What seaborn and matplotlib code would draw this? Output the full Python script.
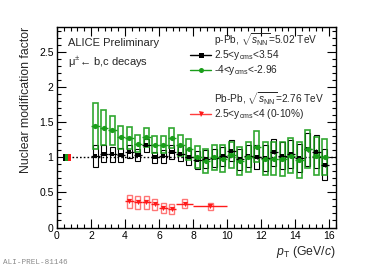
import numpy as np
import pandas as pd
import matplotlib
matplotlib.use("Agg")
import matplotlib.pyplot as plt
from matplotlib.patches import Rectangle
from matplotlib.lines import Line2D
from matplotlib.ticker import MultipleLocator
import seaborn as sns

# ---------------- data ----------------
pt_ppb = [2.25, 2.75, 3.25, 3.75, 4.25, 4.75, 5.25, 5.75, 6.25, 6.75,
          7.25, 7.75, 8.25, 8.75, 9.25, 9.75, 10.25, 10.75, 11.25, 11.75,
          12.25, 12.75, 13.25, 13.75, 14.25, 14.75, 15.25, 15.75]
pt_halfwidth_ppb = [0.25] * 28

raa_fwd = [1.02, 1.05, 1.04, 1.03, 1.08, 1.03, 1.17, 1.00, 1.01, 1.08,
           1.05, 1.00, 0.96, 0.97, 0.99, 1.01, 1.09, 0.97, 1.02, 1.00,
           0.99, 1.07, 1.02, 1.05, 0.99, 1.11, 1.08, 0.89]
sys_fwd = [0.16, 0.12, 0.11, 0.10, 0.09, 0.09, 0.09, 0.08, 0.09, 0.10,
           0.11, 0.11, 0.13, 0.13, 0.13, 0.14, 0.15, 0.15, 0.16, 0.17,
           0.18, 0.19, 0.19, 0.20, 0.20, 0.23, 0.23, 0.22]
stat_fwd = [0.01] * 12 + [0.02] * 8 + [0.03] * 8

raa_bwd = [1.44, 1.42, 1.38, 1.28, 1.27, 1.19, 1.28, 1.18, 1.18, 1.27,
           1.17, 1.11, 1.00, 0.95, 1.00, 0.98, 1.03, 0.94, 1.00, 1.15,
           0.98, 0.98, 0.97, 1.02, 0.96, 1.12, 1.02, 1.00]
sys_bwd = [0.33, 0.25, 0.21, 0.17, 0.16, 0.12, 0.14, 0.12, 0.12, 0.14,
           0.15, 0.15, 0.16, 0.17, 0.18, 0.19, 0.19, 0.20, 0.21, 0.22,
           0.23, 0.24, 0.24, 0.25, 0.25, 0.27, 0.27, 0.26]
stat_bwd = [0.01] * 12 + [0.02] * 8 + [0.03] * 8

pt_pbpb = [4.25, 4.75, 5.25, 5.75, 6.25, 6.75, 7.5, 9.0]
pt_halfwidth_pbpb = [0.25, 0.25, 0.25, 0.25, 0.25, 0.25, 0.5, 1.0]
raa_pbpb = [0.37, 0.36, 0.36, 0.33, 0.28, 0.26, 0.34, 0.30]
sys_pbpb = [0.09, 0.09, 0.09, 0.08, 0.07, 0.07, 0.06, 0.05]

norm_unc = [0.05, 0.05, 0.05]   # fwd, bwd, Pb-Pb global uncertainties

legend_header_ppb = r"p-Pb, $\sqrt{s_{\rm NN}}$=5.02 TeV"
legend_fwd = r"2.5<$\mathrm{y}_{\rm cms}$<3.54"
legend_bwd = r"-4<$\mathrm{y}_{\rm cms}$<-2.96"
legend_header_pbpb = r"Pb-Pb, $\sqrt{s_{\rm NN}}$=2.76 TeV"
legend_pbpb = r"2.5<$\mathrm{y}_{\rm cms}$<4 (0-10%)"

# ---------------- style ----------------
sns.set_theme(style="ticks")
plt.rcParams['font.family'] = ['Liberation Sans', 'DejaVu Sans']
plt.rcParams['mathtext.fontset'] = 'custom'
plt.rcParams['mathtext.rm'] = 'Liberation Sans'
plt.rcParams['mathtext.it'] = 'Liberation Sans:italic'
plt.rcParams['mathtext.bf'] = 'Liberation Sans:bold'

BLACK = '#000000'
GREEN = '#1a9e1a'
RED = '#ff1a1a'

W, H = 374, 268
fig = plt.figure(figsize=(W / 100, H / 100), dpi=100)
L, R, T, B = 57, 336, 26.7, 227.5
ax = fig.add_axes([L / W, 1 - B / H, (R - L) / W, (B - T) / H])
ax.set_facecolor('white')

df_fwd = pd.DataFrame({'pt': pt_ppb, 'raa': raa_fwd, 'sys': sys_fwd,
                       'stat': stat_fwd, 'xe': pt_halfwidth_ppb})
df_bwd = pd.DataFrame({'pt': pt_ppb, 'raa': raa_bwd, 'sys': sys_bwd,
                       'stat': stat_bwd, 'xe': pt_halfwidth_ppb})
df_pbpb = pd.DataFrame({'pt': pt_pbpb, 'raa': raa_pbpb, 'sys': sys_pbpb,
                        'xe': pt_halfwidth_pbpb})

# reference line at 1
ax.hlines(1.0, 0.9, 16.4, colors='black', linestyles=(0, (1.2, 1.5)), lw=1.0, zorder=1)

# systematic boxes
bw = 0.3
for _, r in df_fwd.iterrows():
    ax.add_patch(Rectangle((r.pt - bw / 2, r.raa - r.sys), bw, 2 * r.sys,
                           fill=False, edgecolor=BLACK, lw=0.8, zorder=2))
for _, r in df_bwd.iterrows():
    ax.add_patch(Rectangle((r.pt - bw / 2, r.raa - r.sys), bw, 2 * r.sys,
                           fill=False, edgecolor=GREEN, lw=1.2, alpha=0.9, zorder=3))
for _, r in df_pbpb.iterrows():
    ax.add_patch(Rectangle((r.pt - bw / 2, r.raa - r.sys), bw, 2 * r.sys,
                           fill=False, edgecolor=RED, lw=1.0, alpha=0.6, zorder=3))

# normalisation boxes
norm_x = [0.40, 0.565, 0.75]
norm_w = [0.15, 0.18, 0.18]
for xc, wd, u, c in zip(norm_x, norm_w, norm_unc, [BLACK, GREEN, RED]):
    ax.add_patch(Rectangle((xc - wd / 2, 1 - u), wd, 2 * u, facecolor=c,
                           edgecolor='none', zorder=3))

# error bars
ax.errorbar(df_fwd.pt, df_fwd.raa, xerr=df_fwd.xe, yerr=df_fwd.stat, fmt='none',
            ecolor=BLACK, elinewidth=0.9, zorder=4)
ax.errorbar(df_bwd.pt, df_bwd.raa, xerr=df_bwd.xe, yerr=df_bwd.stat, fmt='none',
            ecolor=GREEN, elinewidth=1.0, zorder=5)
ax.errorbar(df_pbpb.pt, df_pbpb.raa, xerr=df_pbpb.xe, fmt='none',
            ecolor=RED, elinewidth=1.0, zorder=5)

# markers via seaborn
sns.scatterplot(data=df_fwd, x='pt', y='raa', marker='s', color=BLACK, s=10,
                edgecolor=BLACK, linewidth=0, ax=ax, zorder=6)
sns.scatterplot(data=df_bwd, x='pt', y='raa', marker='o', color=GREEN, s=14,
                edgecolor=GREEN, linewidth=0, ax=ax, zorder=7)
sns.scatterplot(data=df_pbpb, x='pt', y='raa', marker='v', color=RED, s=14,
                edgecolor=RED, linewidth=0, ax=ax, zorder=7)

# axes
ax.set_xlim(0, 16.4)
ax.set_ylim(0, 2.855)
ax.xaxis.set_major_locator(MultipleLocator(2))
ax.xaxis.set_minor_locator(MultipleLocator(0.4))
ax.yaxis.set_major_locator(MultipleLocator(0.5))
ax.yaxis.set_minor_locator(MultipleLocator(0.1))
ax.set_yticks([0, 0.5, 1, 1.5, 2, 2.5])
ax.set_yticklabels(['0', '0.5', '1', '1.5', '2', '2.5'])
ax.tick_params(which='both', direction='in', top=True, right=True,
               labelsize=7.5, colors='black', width=0.8, pad=2.5)
ax.tick_params(which='major', length=6.5)
ax.tick_params(which='minor', length=3.2)
for s in ax.spines.values():
    s.set_linewidth(1.0)
    s.set_color('black')

ax.set_xlabel(r"$p_{\rm T}$ (GeV/$c$)", fontsize=8.8, loc='right', labelpad=2)
ax.set_ylabel("Nuclear modification factor", fontsize=8.8, loc='top', labelpad=5)

# texts
def px(x):
    return (x - L) / (R - L)

def py(y):
    return (B - y) / (B - T)

ax.text(px(68), py(43), "ALICE Preliminary", fontsize=8, transform=ax.transAxes,
        va='center', ha='left')
ax.text(px(68), py(62), "\u03bc$^{\\pm}$\u2190 b,c decays", fontsize=8,
        transform=ax.transAxes, va='center', ha='left')

# legend (manual, ROOT-like)
tx = px(214)
ax.text(tx, py(40), legend_header_ppb, fontsize=7.3, transform=ax.transAxes, va='center')
ax.text(tx, py(55), legend_fwd, fontsize=7.3, transform=ax.transAxes, va='center')
ax.text(tx, py(70), legend_bwd, fontsize=7.3, transform=ax.transAxes, va='center')
ax.text(tx, py(99), legend_header_pbpb, fontsize=7.3, transform=ax.transAxes, va='center')
ax.text(tx, py(114), legend_pbpb, fontsize=7.3, transform=ax.transAxes, va='center')
for yy, c, m in [(55, BLACK, 's'), (70, GREEN, 'o'), (114, RED, 'v')]:
    ax.add_line(Line2D([px(190), px(211)], [py(yy), py(yy)], color=c, lw=1.0,
                       transform=ax.transAxes, alpha=0.85 if c == RED else 1))
    ax.add_line(Line2D([px(201)], [py(yy)], color=c, marker=m, markersize=3.6,
                       markeredgewidth=0, transform=ax.transAxes))

fig.text(3 / W, 1 - 262 / H, "ALI-PREL-81146", fontsize=5.5, color='#8a8a8a',
         family=['Liberation Mono', 'DejaVu Sans Mono'], va='center', ha='left')

fig.savefig("out.png", dpi=100, facecolor='white')
